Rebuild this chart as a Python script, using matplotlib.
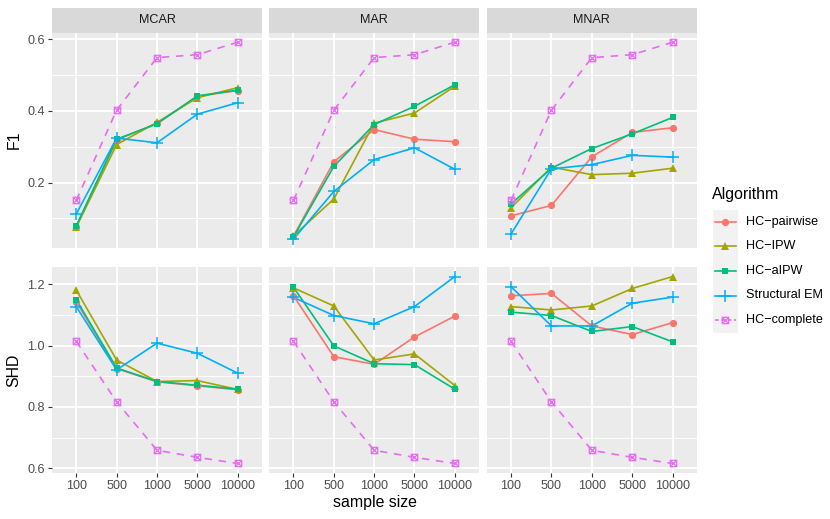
import numpy as np
import matplotlib
matplotlib.use("Agg")
import matplotlib.pyplot as plt
from matplotlib.path import Path
from matplotlib.ticker import MultipleLocator

plt.rcParams['font.family'] = ['Liberation Sans', 'DejaVu Sans']

W, H = 830, 519

sizes = ['100', '500', '1000', '5000', '10000']
mechanisms = ['MCAR', 'MAR', 'MNAR']
algorithms = ['HC\u2212pairwise', 'HC\u2212IPW', 'HC\u2212aIPW', 'Structural EM', 'HC\u2212complete']
colors = ['#F8766D', '#A3A500', '#00BF7D', '#00B0F6', '#E76BF3']

# rows follow the order of algorithms
f1_mcar = [[0.077, 0.319, 0.365, 0.441, 0.457],
           [0.075, 0.306, 0.368, 0.437, 0.465],
           [0.079, 0.321, 0.364, 0.442, 0.458],
           [0.112, 0.324, 0.311, 0.391, 0.423],
           [0.150, 0.402, 0.549, 0.557, 0.592]]
f1_mar = [[0.050, 0.258, 0.348, 0.321, 0.314],
          [0.051, 0.154, 0.366, 0.394, 0.469],
          [0.048, 0.245, 0.362, 0.413, 0.473],
          [0.042, 0.175, 0.264, 0.297, 0.237],
          [0.150, 0.402, 0.549, 0.557, 0.592]]
f1_mnar = [[0.107, 0.136, 0.272, 0.340, 0.353],
           [0.129, 0.243, 0.222, 0.226, 0.240],
           [0.140, 0.240, 0.295, 0.336, 0.382],
           [0.056, 0.238, 0.250, 0.276, 0.271],
           [0.150, 0.402, 0.549, 0.557, 0.592]]

shd_mcar = [[1.143, 0.925, 0.882, 0.869, 0.856],
            [1.181, 0.953, 0.883, 0.886, 0.857],
            [1.150, 0.927, 0.883, 0.871, 0.858],
            [1.127, 0.921, 1.008, 0.975, 0.910],
            [1.014, 0.817, 0.659, 0.636, 0.616]]
shd_mar = [[1.162, 0.964, 0.939, 1.028, 1.096],
           [1.188, 1.129, 0.953, 0.973, 0.870],
           [1.190, 0.999, 0.941, 0.938, 0.858],
           [1.157, 1.098, 1.071, 1.127, 1.225],
           [1.014, 0.817, 0.659, 0.636, 0.616]]
shd_mnar = [[1.162, 1.170, 1.064, 1.036, 1.075],
            [1.127, 1.116, 1.129, 1.186, 1.225],
            [1.109, 1.098, 1.046, 1.062, 1.012],
            [1.192, 1.064, 1.064, 1.138, 1.158],
            [1.014, 0.817, 0.659, 0.636, 0.616]]

f1_data = [f1_mcar, f1_mar, f1_mnar]
shd_data = [shd_mcar, shd_mar, shd_mnar]

SMALL = 9.1
BIG = 11.4

# square with a cross (ggplot shape 7)
sqx = Path([(-1, -1), (1, -1), (1, 1), (-1, 1), (-1, -1),
            (-1, -1), (1, 1), (-1, 1), (1, -1)],
           [Path.MOVETO, Path.LINETO, Path.LINETO, Path.LINETO, Path.CLOSEPOLY,
            Path.MOVETO, Path.LINETO, Path.MOVETO, Path.LINETO])

styles = [dict(marker='o', ms=5.2, mfc=None, mew=0),
          dict(marker='^', ms=5.8, mfc=None, mew=0),
          dict(marker='s', ms=5.0, mfc=None, mew=0),
          dict(marker='+', ms=8.0, mfc=None, mew=1.1),
          dict(marker=sqx, ms=4.6, mfc='none', mew=0.9)]

fig = plt.figure(figsize=(W / 100, H / 100), dpi=100)


def px_axes(x0, y0, x1, y1):
    return fig.add_axes([x0 / W, 1 - y1 / H, (x1 - x0) / W, (y1 - y0) / H])


cols = [(52, 262), (269.3, 479), (486.7, 697)]
top_row = (32.7, 247.5)
bot_row = (267.3, 472.7)
x = np.arange(1, len(sizes) + 1)


def style_panel(ax, ylim, major, minor, show_y, show_x):
    ax.set_facecolor('#EBEBEB')
    for s in ax.spines.values():
        s.set_visible(False)
    ax.set_xlim(0.4, 5.6)
    ax.set_ylim(*ylim)
    ax.set_xticks(x)
    ax.set_xticklabels(sizes)
    ax.yaxis.set_major_locator(MultipleLocator(major))
    ax.yaxis.set_minor_locator(MultipleLocator(minor))
    ax.yaxis.set_major_formatter(matplotlib.ticker.FormatStrFormatter('%.1f'))
    ax.grid(True, which='major', color='white', lw=1.3)
    ax.grid(True, which='minor', axis='y', color='white', lw=0.65)
    ax.set_axisbelow(True)
    ax.tick_params(which='minor', length=0)
    ax.tick_params(which='major', length=3, width=0.8, color='#333333',
                   labelcolor='#4D4D4D', labelsize=SMALL, pad=2)
    if not show_y:
        ax.tick_params(axis='y', which='major', length=0, labelleft=False)
    if not show_x:
        ax.tick_params(axis='x', which='major', length=0, labelbottom=False)


def draw_lines(ax, data):
    for i, vals in enumerate(data):
        ls = (0, (4.5, 4)) if i == 4 else '-'
        ax.plot(x, vals, color=colors[i], lw=1.2, ls=ls, zorder=2 + i * 0.01)
    for i, vals in enumerate(data):
        st = styles[i]
        ax.plot(x, vals, ls='none', marker=st['marker'], ms=st['ms'],
                color=colors[i], mec=colors[i],
                mfc=colors[i] if st['mfc'] is None else st['mfc'],
                mew=st['mew'] if st['mew'] else 0.0, zorder=3 + i * 0.01)


for j, (cx0, cx1) in enumerate(cols):
    ax = px_axes(cx0, top_row[0], cx1, top_row[1])
    style_panel(ax, (0.0185, 0.6185), 0.2, 0.1, j == 0, False)
    draw_lines(ax, f1_data[j])

    strip = px_axes(cx0, 8, cx1, top_row[0])
    strip.set_facecolor('#D9D9D9')
    strip.set_xticks([])
    strip.set_yticks([])
    for s in strip.spines.values():
        s.set_visible(False)
    strip.text(0.5, 0.5, mechanisms[j], ha='center', va='center',
               fontsize=SMALL, color='#1A1A1A', transform=strip.transAxes)

    ax = px_axes(cx0, bot_row[0], cx1, bot_row[1])
    style_panel(ax, (0.586, 1.255), 0.2, 0.1, j == 0, True)
    draw_lines(ax, shd_data[j])

# overlay in pixel coordinates for titles and legend
ov = fig.add_axes([0, 0, 1, 1], facecolor='none')
ov.set_xlim(0, W)
ov.set_ylim(H, 0)
ov.axis('off')

ov.text(14, (top_row[0] + top_row[1]) / 2, 'F1', rotation=90, ha='center',
        va='center', fontsize=BIG, color='black')
ov.text(14, (bot_row[0] + bot_row[1]) / 2, 'SHD', rotation=90, ha='center',
        va='center', fontsize=BIG, color='black')
ov.text((cols[0][0] + cols[2][1]) / 2, 502, 'sample size', ha='center',
        va='center', fontsize=BIG, color='black')

ov.text(712, 194, 'Algorithm', ha='left', va='center', fontsize=BIG, color='black')
key_y = [221.7, 246.2, 270.8, 295.5, 320.2]
ov.add_patch(plt.Rectangle((712.5, 209.5), 25, 123, facecolor='#F2F2F2',
                           edgecolor='none', zorder=1))
for i, ky in enumerate(key_y):
    st = styles[i]
    ls = (0, (2.2, 1.6)) if i == 4 else '-'
    ov.plot([715, 735.5], [ky, ky], color=colors[i], lw=1.2, ls=ls, zorder=2)
    ov.plot([725.2], [ky], ls='none', marker=st['marker'], ms=st['ms'],
            color=colors[i], mec=colors[i],
            mfc=colors[i] if st['mfc'] is None else st['mfc'],
            mew=st['mew'] if st['mew'] else 0.0, zorder=3)
    ov.text(746, ky, algorithms[i], ha='left', va='center', fontsize=SMALL,
            color='black')

fig.savefig('out.png', dpi=100)
